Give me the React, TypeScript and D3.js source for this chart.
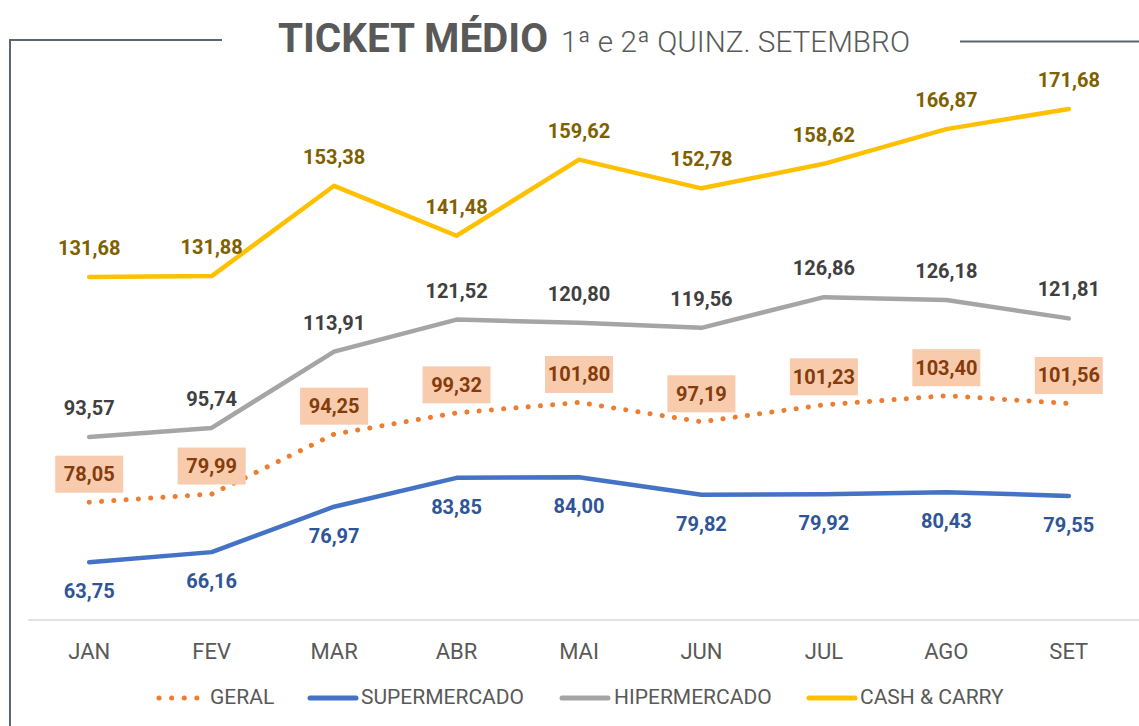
import React from "react";
import * as d3 from "d3";

const months = ["JAN", "FEV", "MAR", "ABR", "MAI", "JUN", "JUL", "AGO", "SET"];
const geral = [78.05, 79.99, 94.25, 99.32, 101.8, 97.19, 101.23, 103.4, 101.56];
const supermercado = [63.75, 66.16, 76.97, 83.85, 84.0, 79.82, 79.92, 80.43, 79.55];
const hipermercado = [93.57, 95.74, 113.91, 121.52, 120.8, 119.56, 126.86, 126.18, 121.81];
const cashCarry = [131.68, 131.88, 153.38, 141.48, 159.62, 152.78, 158.62, 166.87, 171.68];
const legendNames = ["GERAL", "SUPERMERCADO", "HIPERMERCADO", "CASH & CARRY"];

const W = 1139;
const H = 726;
const FONT = "Roboto, 'Open Sans', sans-serif";

const fmt = (v: number) => v.toFixed(2).replace(".", ",");

export default function App() {
  const x = d3.scalePoint<string>().domain(months).range([28, 1130]).padding(0.5);
  const y = d3.scaleLinear().domain([50, 180]).range([620, 74]);
  const line = d3
    .line<number>()
    .x((_, i) => x(months[i]) as number)
    .y((d) => y(d))
    .curve(d3.curveLinear);

  const series = [
    { name: "HIPERMERCADO", data: hipermercado, color: "#a5a5a5", label: "#404040", pos: "above" },
    { name: "CASH & CARRY", data: cashCarry, color: "#ffc000", label: "#7f6000", pos: "above" },
    { name: "SUPERMERCADO", data: supermercado, color: "#4472c4", label: "#2f5597", pos: "below" },
  ];

  return (
    <div style={{ position: "absolute", left: 0, top: 0 }}>
      <svg width={W} height={H} style={{ display: "block", background: "#ffffff" }}>
        {/* frame */}
        <path d="M222,40 H10 V726" fill="none" stroke="#5b6570" strokeWidth={2} />
        <path d="M960,41.5 H1139" fill="none" stroke="#5b6570" strokeWidth={2} />
        {/* title */}
        <text x={278} y={52} fontFamily={FONT} fontWeight={700} fontSize={41} fill="#595959" textLength={270} lengthAdjust="spacingAndGlyphs">
          TICKET MÉDIO
        </text>
        <text x={561} y={52} fontFamily={FONT} fontWeight={300} fontSize={30} fill="#595959" textLength={349} lengthAdjust="spacingAndGlyphs">
          1ª e 2ª QUINZ. SETEMBRO
        </text>

        {/* axis line */}
        <line x1={28} x2={1139} y1={y(50)} y2={y(50)} stroke="#d9d9d9" strokeWidth={1.5} />
        {months.map((m) => (
          <text key={m} x={x(m)} y={651} textAnchor="middle" dominantBaseline="central" fontFamily={FONT} fontSize={22} fill="#595959">
            {m}
          </text>
        ))}

        {/* solid series */}
        {series.map((s) => (
          <path key={s.name} d={line(s.data) as string} fill="none" stroke={s.color} strokeWidth={4.5} strokeLinecap="round" strokeLinejoin="round" />
        ))}
        {/* geral dotted */}
        <path d={line(geral) as string} fill="none" stroke="#ed7d31" strokeWidth={5} strokeLinecap="round" strokeDasharray="0.1 12.2" />

        {/* labels */}
        {series.map((s) =>
          s.data.map((v, i) => (
            <text
              key={s.name + i}
              x={x(months[i])}
              y={y(v) + (s.pos === "above" ? -29 : 29)}
              textAnchor="middle"
              dominantBaseline="central"
              fontFamily={FONT}
              fontWeight={700}
              fontSize={20}
              fill={s.label}
            >
              {fmt(v)}
            </text>
          ))
        )}
        {geral.map((v, i) => {
          const cx = x(months[i]) as number;
          const cy = y(v) - 28;
          return (
            <g key={"g" + i}>
              <rect x={cx - 34} y={cy - 18.5} width={68} height={37} fill="#f8cbad" />
              <text x={cx} y={cy} textAnchor="middle" dominantBaseline="central" fontFamily={FONT} fontWeight={700} fontSize={20} fill="#843c0c">
                {fmt(v)}
              </text>
            </g>
          );
        })}

        {/* legend */}
        <g fontFamily={FONT} fontSize={21} fill="#595959">
          <line x1={159} x2={197} y1={698} y2={698} stroke="#ed7d31" strokeWidth={5} strokeLinecap="round" strokeDasharray="0.1 12.5" />
          <text x={210} y={697} dominantBaseline="central">{legendNames[0]}</text>
          <line x1={310} x2={356} y1={698} y2={698} stroke="#4472c4" strokeWidth={5} strokeLinecap="round" />
          <text x={361} y={697} dominantBaseline="central">{legendNames[1]}</text>
          <line x1={562} x2={608} y1={698} y2={698} stroke="#a5a5a5" strokeWidth={5} strokeLinecap="round" />
          <text x={614} y={697} dominantBaseline="central">{legendNames[2]}</text>
          <line x1={809} x2={855} y1={698} y2={698} stroke="#ffc000" strokeWidth={5} strokeLinecap="round" />
          <text x={860} y={697} dominantBaseline="central">{legendNames[3]}</text>
        </g>
      </svg>
    </div>
  );
}
